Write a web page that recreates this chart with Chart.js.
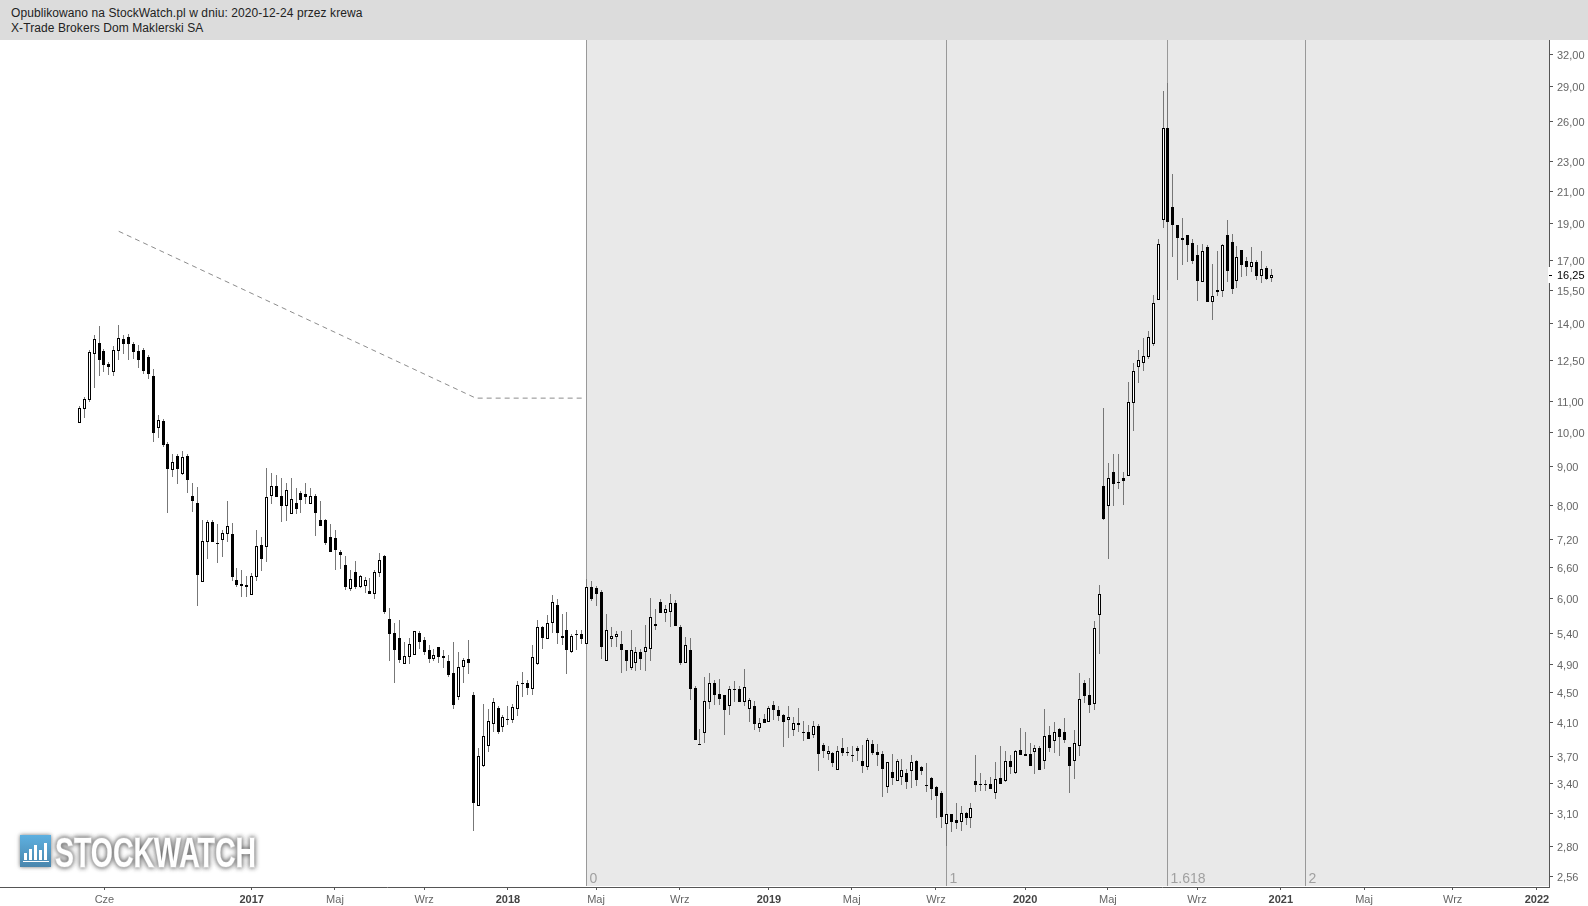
<!DOCTYPE html>
<html lang="pl">
<head>
<meta charset="utf-8">
<title>X-Trade Brokers Dom Maklerski SA</title>
<script src="https://cdn.jsdelivr.net/npm/chart.js@4"></script>
<style>
    html, body { margin: 0; padding: 0; background: #fff; }
    #header {
        position: absolute; left: 0; top: 0; width: 1577px; height: 34px;
        padding: 6px 0 0 11px; background: #dcdcdc; color: #222;
        font: 12px/15px "Liberation Sans", Arial, sans-serif;
        letter-spacing: 0.085px;
    }
    canvas { position: absolute; left: 0; top: 0; }
</style>
</head>
<body>
<canvas id="chart" width="1588" height="906"></canvas>
<div id="header">Opublikowano na StockWatch.pl w dniu: 2020-12-24 przez krewa<br>X-Trade Brokers Dom Maklerski SA</div>
<script>
// notowania tygodniowe, wartosci
const opens = [10.31,10.75,11.05,12.73,13.17,12.85,12.34,12.05,12.85,13.33,
    13.42,13.13,12.85,12.89,12.61,11.90,10.14,10.37,9.66,8.91,
    9.30,8.80,9.30,8.23,8.05,6.32,7.14,7.60,7.12,7.19,
    7.32,7.32,6.36,6.28,6.26,6.07,6.42,7.08,7.04,8.23,
    8.50,8.23,7.98,7.79,8.05,8.31,8.28,8.03,8.23,7.65,
    7.65,7.25,7.23,6.93,6.66,6.18,6.52,6.22,6.24,6.15,
    6.09,6.50,6.85,5.64,5.41,5.32,4.91,5.02,5.05,5.41,
    5.28,5.13,4.99,5.17,5.04,4.95,4.78,4.44,4.87,4.99,
    4.47,3.17,3.59,3.82,4.08,4.29,4.05,4.15,4.13,4.28,
    4.64,4.63,4.55,4.91,5.51,5.30,5.57,5.89,5.36,5.46,
    5.10,5.39,5.39,5.22,6.22,6.20,6.13,4.96,5.30,5.34,
    5.22,5.13,4.85,4.93,5.10,5.10,5.15,5.56,5.94,5.75,
    5.77,5.92,5.51,4.92,5.13,4.56,3.84,3.97,4.37,4.64,
    4.48,4.47,4.32,4.55,4.55,4.37,4.28,4.32,4.03,4.15,
    4.11,4.33,4.27,4.20,4.13,4.01,4.10,3.98,3.98,3.95,
    4.06,3.83,3.72,3.74,3.55,3.79,3.75,3.71,3.79,3.65,
    3.58,3.84,3.75,3.72,3.37,3.52,3.43,3.47,3.51,3.53,
    3.65,3.58,3.39,3.46,3.37,3.30,3.00,3.10,3.04,3.02,
    3.11,3.06,3.43,3.40,3.40,3.40,3.30,3.46,3.43,3.65,
    3.51,3.77,3.72,3.72,3.75,3.79,3.64,3.95,3.88,4.02,
    3.99,3.80,3.64,3.82,4.64,4.47,4.35,5.71,8.50,7.98,
    8.86,8.59,8.69,8.75,10.96,12.23,12.37,12.61,13.13,15.03,
    19.21,25.49,19.99,18.92,18.18,18.35,17.90,17.26,15.88,17.69,
    14.94,15.50,15.45,18.35,17.96,15.93,17.52,16.94,16.63,16.89,
    16.18,16.58,16.08];
const highs = [10.85,11.16,12.89,13.50,13.87,12.93,12.42,13.05,13.91,13.50,
    13.54,13.21,13.09,12.97,12.69,12.16,10.56,10.43,9.72,9.36,
    9.36,9.45,9.36,8.56,8.45,7.65,7.65,7.65,7.55,7.42,
    8.10,7.58,6.60,6.56,6.44,6.50,7.41,7.25,8.97,8.83,
    8.77,8.69,8.56,8.69,8.43,8.36,8.56,8.43,8.28,8.10,
    7.67,7.55,7.42,6.97,6.85,6.56,6.74,6.46,6.42,6.40,
    6.56,6.91,6.87,5.84,5.57,5.62,5.26,5.32,5.44,5.43,
    5.34,5.21,5.15,5.18,5.13,5.05,5.26,5.10,5.01,5.28,
    4.50,3.79,4.35,4.28,4.43,4.32,4.20,4.32,4.35,4.66,
    4.79,4.67,5.20,5.62,5.52,5.71,6.07,6.00,5.73,5.77,
    5.39,5.46,5.46,6.38,6.34,6.24,6.16,5.73,5.51,5.44,
    5.43,5.13,5.46,5.17,5.15,5.54,6.02,5.82,6.00,5.89,
    6.09,5.98,5.54,5.34,5.32,4.59,4.02,4.72,4.78,4.67,
    4.69,4.47,4.59,4.66,4.59,4.84,4.43,4.38,4.16,4.21,
    4.32,4.38,4.32,4.21,4.32,4.17,4.29,4.12,4.07,4.12,
    4.08,3.85,3.82,3.75,3.82,3.91,3.81,3.82,3.82,3.83,
    3.91,3.89,3.84,3.76,3.63,3.72,3.67,3.67,3.56,3.71,
    3.66,3.59,3.62,3.47,3.38,3.32,3.10,3.10,3.20,3.17,
    3.12,3.20,3.71,3.51,3.44,3.47,3.63,3.82,3.76,3.71,
    3.77,4.03,3.98,3.85,3.83,3.82,4.28,4.06,4.11,4.03,
    4.16,3.80,4.01,4.78,4.67,4.70,5.61,6.26,10.78,9.10,
    9.36,9.36,8.86,11.68,12.37,12.89,13.37,13.66,15.26,18.13,
    28.56,29.27,22.13,18.92,19.33,18.35,18.13,17.80,17.85,17.80,
    16.78,17.47,17.85,19.21,18.41,17.74,17.52,17.15,17.69,17.00,
    17.47,16.68,16.53];
const lows = [10.31,10.46,10.99,11.47,11.90,12.05,11.93,11.90,12.50,12.73,
    12.50,12.54,12.19,11.97,11.79,9.72,9.84,9.57,7.81,8.72,
    8.53,8.77,8.31,7.84,5.87,6.32,6.79,7.14,6.70,6.83,
    7.14,6.34,6.22,6.03,6.03,6.07,6.34,6.54,6.72,8.03,
    8.20,7.60,7.62,7.79,7.79,7.81,8.03,8.03,7.28,7.51,
    7.08,6.93,6.56,6.58,6.16,6.15,6.18,6.20,6.11,6.09,
    6.00,6.42,5.73,4.96,4.64,4.92,4.91,4.91,5.05,5.15,
    5.05,4.93,4.96,4.93,4.85,4.72,4.28,4.40,4.64,4.76,
    2.94,3.17,3.58,3.75,3.99,3.96,3.99,4.07,4.10,4.18,
    4.44,4.47,4.47,4.89,5.15,5.30,5.41,5.22,5.21,4.76,
    5.08,5.12,5.22,5.22,5.96,5.87,4.99,4.96,5.18,5.18,
    4.78,4.81,4.82,4.81,4.82,4.81,4.96,5.46,5.75,5.59,
    5.51,5.52,4.89,4.92,4.40,3.89,3.83,3.85,4.28,4.33,
    4.33,3.95,4.20,4.37,4.37,4.32,4.11,4.01,3.99,4.10,
    4.11,4.13,4.12,3.81,3.91,3.94,3.98,3.88,3.90,3.91,
    3.53,3.68,3.66,3.58,3.55,3.70,3.70,3.63,3.64,3.51,
    3.55,3.71,3.59,3.26,3.30,3.39,3.43,3.39,3.35,3.36,
    3.38,3.49,3.31,3.23,3.06,2.97,2.81,2.93,2.96,2.94,
    2.99,2.97,3.31,3.32,3.32,3.34,3.24,3.40,3.42,3.50,
    3.50,3.71,3.70,3.59,3.50,3.55,3.56,3.75,3.74,3.70,
    3.85,3.30,3.45,3.70,4.36,4.22,4.27,5.07,7.65,6.79,
    7.98,8.41,8.00,8.75,10.05,11.64,12.08,12.54,13.05,15.03,
    18.75,15.50,17.15,15.98,16.73,16.89,16.78,14.98,15.88,14.94,
    14.13,15.22,15.17,15.88,15.31,15.59,16.13,16.18,16.38,15.98,
    15.83,15.98,15.88];
const closes = [10.78,11.09,12.81,13.33,12.50,12.31,12.23,12.89,13.37,13.13,
    13.13,12.81,12.50,12.08,11.97,9.99,10.40,9.63,8.94,9.13,
    8.94,9.27,8.64,8.10,6.46,7.16,7.60,7.14,7.10,7.35,
    7.51,6.42,6.26,6.24,6.22,6.44,7.06,6.79,8.20,8.50,
    8.20,7.98,8.38,8.15,7.91,8.13,8.21,8.22,7.81,7.51,
    7.12,6.93,6.97,6.87,6.22,6.38,6.22,6.44,6.36,6.09,
    6.52,6.76,5.77,5.39,5.12,4.98,5.04,5.22,5.43,5.26,
    5.10,4.99,5.05,5.02,5.01,4.75,4.33,4.87,4.98,4.92,
    3.20,3.70,3.94,4.12,4.37,3.99,4.17,4.13,4.31,4.60,
    4.62,4.56,5.02,5.51,5.32,5.57,5.94,5.41,5.32,5.12,
    5.36,5.37,5.30,6.22,6.00,6.09,5.18,5.46,5.36,5.39,
    5.12,4.96,5.12,5.10,4.99,5.17,5.68,5.52,5.75,5.82,
    5.92,5.52,4.92,5.20,4.55,3.89,3.83,4.38,4.64,4.47,
    4.41,4.27,4.55,4.54,4.37,4.57,4.40,4.08,4.10,4.10,
    4.29,4.27,4.18,4.11,4.17,4.10,4.07,3.97,3.90,4.06,
    3.72,3.76,3.76,3.62,3.76,3.74,3.74,3.70,3.76,3.59,
    3.89,3.74,3.71,3.56,3.63,3.46,3.65,3.55,3.42,3.63,
    3.44,3.53,3.38,3.34,3.27,3.07,3.10,3.02,3.01,3.11,
    3.06,3.16,3.39,3.39,3.39,3.34,3.45,3.40,3.65,3.58,
    3.76,3.71,3.70,3.59,3.79,3.55,3.94,3.79,3.98,3.92,
    3.89,3.59,3.85,4.41,4.45,4.33,5.49,6.09,7.67,8.69,
    8.53,8.56,8.61,10.99,12.08,12.50,12.65,13.42,14.89,17.85,
    25.49,19.10,18.92,18.18,18.07,17.80,16.94,15.93,17.47,14.94,
    15.22,15.40,17.80,16.43,15.54,17.15,16.73,16.63,16.89,16.18,
    16.53,16.03,16.25];

// os czasu: numer tygodnia od pierwszej swiecy
const tickWeeks = [5.1, 35, 51.9, 70, 87, 104.9, 121.9, 140, 156.8, 173.9, 192, 208.8, 226.9, 243.9, 260.8, 278.8, 295.9];
const tickLabels = ['Cze', '2017', 'Maj', 'Wrz', '2018', 'Maj', 'Wrz', '2019', 'Maj', 'Wrz', '2020', 'Maj', 'Wrz', '2021', 'Maj', 'Wrz', '2022'];
const priceTicks = [32, 29, 26, 23, 21, 19, 17, 16.25, 15.5, 14, 12.5, 11, 10, 9, 8, 7.2, 6.6, 6, 5.4, 4.9, 4.5, 4.1, 3.7, 3.4, 3.1, 2.8, 2.56];

// linie Fibonacciego (czas)
const fibWeeks = [102.8, 176, 220.9, 248.8];
const fibLabels = ['0', '1', '1.618', '2'];

// przerywana linia trendu
const trendWeeks = [8, 80.5, 102.1];
const trendPrices = [18.57, 11.12, 11.12];

const lastClose = closes[closes.length - 1];
const fontName = '"Liberation Sans", Arial, sans-serif';

const candlePlugin = {
    id: 'candlePlugin',
    beforeDatasetsDraw(chart) {
        const { ctx, chartArea: { top, bottom, right }, scales: { x } } = chart;

        // szare tlo od linii 0 do konca wykresu
        ctx.save();
        ctx.fillStyle = '#e9e9e9';
        const bandLeft = Math.round(x.getPixelForValue(fibWeeks[0]));
        ctx.fillRect(bandLeft, top, right - bandLeft, bottom - top - 1);

        ctx.fillStyle = '#999';
        fibWeeks.forEach(week => {
            ctx.fillRect(Math.round(x.getPixelForValue(week)), top, 1, bottom - top - 1);
        });

        ctx.fillStyle = '#a0a0a0';
        ctx.font = '14px ' + fontName;
        ctx.textBaseline = 'middle';
        fibWeeks.forEach((week, i) => {
            ctx.fillText(fibLabels[i], Math.round(x.getPixelForValue(week)) + 3.5, 879);
        });
        ctx.restore();

        // swiece na pelne piksele, inaczej sa rozmyte
        chart.data.datasets.forEach((dataset, datasetIndex) => {
            if (dataset.type === 'line') return;
            chart.getDatasetMeta(datasetIndex).data.forEach(bar => {
                bar.x = Math.floor(bar.x) + 0.5;
                bar.y = Math.round(bar.y);
                bar.base = Math.round(bar.base);
                if (bar.y === bar.base) bar.y -= 1;
            });
        });
    },
    afterDraw(chart) {
        const { ctx, chartArea: { right }, scales: { y } } = chart;

        // przerwa w osi przy ostatnim kursie
        const lastY = Math.round(y.getPixelForValue(lastClose));
        ctx.save();
        ctx.clearRect(right - 1, lastY - 8, 7, 16);
        ctx.fillStyle = '#000';
        ctx.fillRect(right, lastY, 3, 1);
        ctx.restore();

        // logo
        ctx.save();
        ctx.shadowColor = 'rgba(80, 80, 80, 0.8)';
        ctx.shadowBlur = 4;
        const blue = ctx.createLinearGradient(0, 835, 0, 867);
        blue.addColorStop(0, '#5eb0e0');
        blue.addColorStop(1, '#4a86ad');
        ctx.fillStyle = blue;
        ctx.fillRect(20, 835, 31, 32);
        ctx.shadowBlur = 0;
        ctx.fillStyle = '#fff';
        [[24, 853], [29, 849], [34, 845], [39, 850], [44, 843]].forEach(bar => {
            ctx.fillRect(bar[0], bar[1], 3, 860 - bar[1]);
        });
        ctx.fillRect(23, 861, 26, 1);

        ctx.shadowColor = 'rgba(60, 60, 60, 0.9)';
        ctx.shadowBlur = 5;
        ctx.font = 'bold 42px ' + fontName;
        ctx.textBaseline = 'alphabetic';
        const logoWidth = ctx.measureText('STOCKWATCH').width;
        ctx.translate(55, 866.5);
        ctx.scale(201 / logoWidth, 1);
        ctx.fillStyle = '#fff';
        ctx.strokeStyle = '#fff';
        ctx.lineWidth = 1.5;
        ctx.strokeText('STOCKWATCH', 0, 0);
        ctx.fillText('STOCKWATCH', 0, 0);
        ctx.restore();
    }
};

new Chart(document.getElementById('chart'), {
    type: 'bar',
    data: {
        datasets: [
            {
                label: 'Korpus',
                order: 1,
                grouped: false,
                barThickness: 3,
                borderWidth: 1,
                borderSkipped: false,
                inflateAmount: 0,
                borderColor: '#000',
                backgroundColor: closes.map((close, i) => close >= opens[i] ? '#fff' : '#000'),
                data: closes.map((close, i) => ({ x: i, y: [opens[i], close] }))
            },
            {
                label: 'Cien',
                order: 2,
                grouped: false,
                barThickness: 1,
                borderWidth: 0,
                inflateAmount: 0,
                backgroundColor: '#777',
                data: highs.map((high, i) => ({ x: i, y: [lows[i], high] }))
            },
            {
                type: 'line',
                label: 'Trend',
                order: 3,
                borderColor: '#8c8c8c',
                borderWidth: 1,
                borderDash: [5, 4],
                pointRadius: 0,
                tension: 0,
                data: trendWeeks.map((week, i) => ({ x: week, y: trendPrices[i] }))
            }
        ]
    },
    options: {
        responsive: false,
        animation: false,
        events: [],
        layout: { padding: { top: 40, left: 0, right: 0, bottom: 0 } },
        plugins: { legend: { display: false }, tooltip: { enabled: false } },
        scales: {
            x: {
                type: 'linear',
                offset: false,
                min: -16.1,
                max: 298.35,
                afterFit(scale) { scale.height = 19; },
                afterBuildTicks(scale) { scale.ticks = tickWeeks.map(value => ({ value })); },
                grid: { offset: false, drawOnChartArea: false, tickLength: 3, color: '#555' },
                border: { color: '#555' },
                ticks: {
                    autoSkip: false,
                    maxRotation: 0,
                    padding: 3,
                    callback: (value, index) => tickLabels[index],
                    color: ctx => /^\d/.test(tickLabels[ctx.index]) ? '#444' : '#666',
                    font: ctx => ({
                        family: fontName,
                        size: 11,
                        weight: /^\d/.test(tickLabels[ctx.index]) ? 'bold' : 'normal'
                    })
                }
            },
            y: {
                type: 'logarithmic',
                position: 'right',
                min: 2.475,
                max: 33.43,
                afterFit(scale) { scale.width = 39; },
                afterBuildTicks(scale) { scale.ticks = priceTicks.map(value => ({ value })); },
                grid: { drawOnChartArea: false, tickLength: 4, color: '#555' },
                border: { color: '#555' },
                ticks: {
                    autoSkip: false,
                    padding: 4,
                    labelOffset: 1.5,
                    callback: value => value.toFixed(2).replace('.', ','),
                    color: ctx => ctx.tick.value === lastClose ? '#000' : '#666',
                    font: { family: fontName, size: 11 }
                }
            }
        }
    },
    plugins: [candlePlugin]
});
</script>
</body>
</html>
